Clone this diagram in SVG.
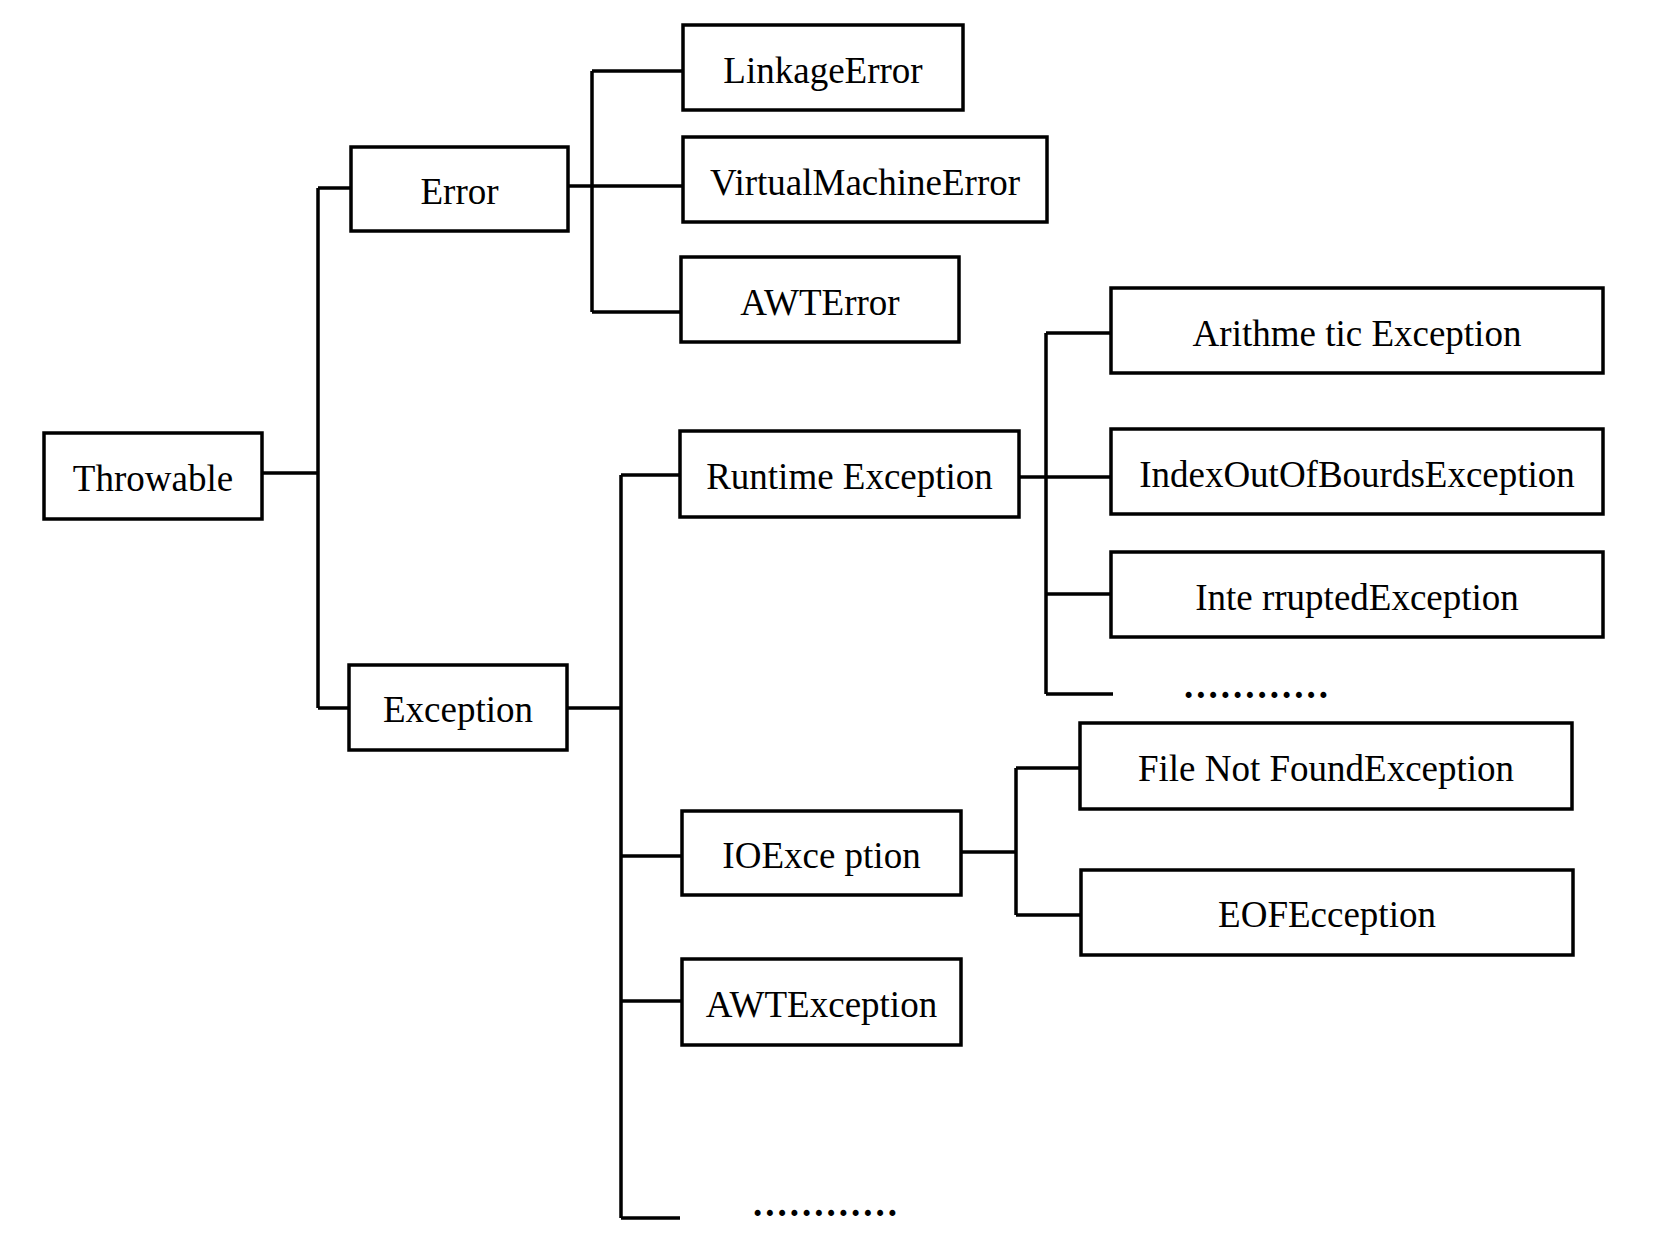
<svg xmlns="http://www.w3.org/2000/svg" width="1677" height="1257" viewBox="0 0 1677 1257">
<style>
.box{fill:#fff;stroke:#000;stroke-width:3.5}
.lbl{font-family:"Liberation Serif","Times New Roman",serif;font-size:37px;text-anchor:middle;fill:#000}
.dots{font-family:"Liberation Serif","Times New Roman",serif;font-size:37px;font-weight:bold;fill:#000;letter-spacing:3px}
.ln{stroke:#000;stroke-width:3.5;fill:none}
</style>
<rect width="1677" height="1257" fill="#fff"/>
<g id="connectors">
<path class="ln" d="M262 473H318M318 188V708M318 188H351M318 708H349"/>
<path class="ln" d="M568 186H683M592 71V312M592 71H683M592 312H681"/>
<path class="ln" d="M567 708H621M621 475V1218M621 475H680M621 856H682M621 1001H682M621 1218H680"/>
<path class="ln" d="M1019 477H1111M1046 333V694M1046 333H1111M1046 594H1111M1046 694H1113"/>
<path class="ln" d="M961 852H1016M1016 768V915M1016 768H1080M1016 915H1081"/>
</g>
<g id="throwable"><rect class="box" x="44" y="433" width="218" height="86"/><text class="lbl" x="153" y="491">Throwable</text></g>
<g id="error"><rect class="box" x="351" y="147" width="217" height="84"/><text class="lbl" x="459.5" y="204">Error</text></g>
<g id="exception"><rect class="box" x="349" y="665" width="218" height="85"/><text class="lbl" x="458" y="722">Exception</text></g>
<g id="linkageError"><rect class="box" x="683" y="25" width="280" height="85"/><text class="lbl" x="823" y="83">LinkageError</text></g>
<g id="virtualMachineError"><rect class="box" x="683" y="137" width="364" height="85"/><text class="lbl" x="865" y="195">VirtualMachineError</text></g>
<g id="awtError"><rect class="box" x="681" y="257" width="278" height="85"/><text class="lbl" x="820" y="315">AWTError</text></g>
<g id="runtimeException"><rect class="box" x="680" y="431" width="339" height="86"/><text class="lbl" x="849.5" y="489">Runtime Exception</text></g>
<g id="arithmeticException"><rect class="box" x="1111" y="288" width="492" height="85"/><text class="lbl" x="1357" y="346">Arithme tic Exception</text></g>
<g id="indexOutOfBoundsException"><rect class="box" x="1111" y="429" width="492" height="85"/><text class="lbl" x="1357" y="487">IndexOutOfBourdsException</text></g>
<g id="interruptedException"><rect class="box" x="1111" y="552" width="492" height="85"/><text class="lbl" x="1357" y="610">Inte rruptedException</text></g>
<g id="runtimeMore"><text class="dots" x="1184" y="698">............</text></g>
<g id="fileNotFoundException"><rect class="box" x="1080" y="723" width="492" height="86"/><text class="lbl" x="1326" y="781">File Not FoundException</text></g>
<g id="eofException"><rect class="box" x="1081" y="870" width="492" height="85"/><text class="lbl" x="1327" y="927">EOFEcception</text></g>
<g id="ioException"><rect class="box" x="682" y="811" width="279" height="84"/><text class="lbl" x="821.5" y="868">IOExce ption</text></g>
<g id="awtException"><rect class="box" x="682" y="959" width="279" height="86"/><text class="lbl" x="821.5" y="1017">AWTException</text></g>
<g id="exceptionMore"><text class="dots" x="753" y="1216">............</text></g>
</svg>
